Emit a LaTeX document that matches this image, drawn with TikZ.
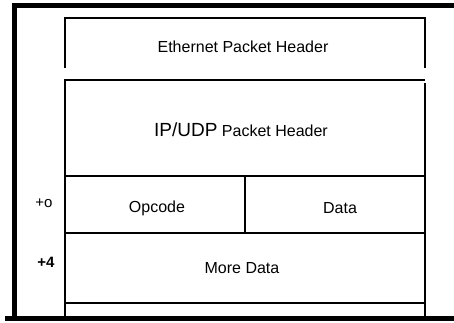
\documentclass[tikz,border=0pt]{standalone}
\usepackage{fontspec}
\setmainfont{Liberation Sans}
\begin{document}
\begin{tikzpicture}[x=1pt,y=-1pt,
  frame/.style={line width=5pt},
  rule/.style={line width=2.6pt},
  lbl/.style={inner sep=0pt,font=\fontsize{16}{18}\selectfont},
  off/.style={inner sep=0pt,font=\fontsize{15}{17}\selectfont}]
\useasboundingbox (0,0) rectangle (454,322);
% outer frame: top, left and bottom edges
\draw[frame] (12,5) -- (454,5);
\draw[frame] (14,3) -- (14,320);
\draw[frame] (5,318) -- (454,318);
% Ethernet header block (open at the bottom)
\draw[rule] (65,68) -- (65,18) -- (425,18) -- (425,68);
% IP/UDP header and payload rows
\draw[rule] (65,318) -- (65,80) -- (425,80);
\draw[rule] (425,83) -- (425,318);
\draw[rule] (65,176) -- (425,176);
\draw[rule] (65,233) -- (425,233);
\draw[rule] (65,303) -- (425,303);
\draw[rule] (245,176) -- (245,233);
% labels
\node[lbl] (eth) at (243,47) {Ethernet Packet Header};
\node[lbl] (ip) at (241,130) {{\fontsize{19}{21}\selectfont IP/UDP} Packet Header};
\node[lbl] (op) at (157,208) {Opcode};
\node[lbl] (data) at (340,208) {Data};
\node[lbl] (more) at (242,268) {More Data};
\node[off] (o0) at (44,203) {+o};
\node[off] (o4) at (46,262) {\textbf{+4}};
\end{tikzpicture}
\end{document}
